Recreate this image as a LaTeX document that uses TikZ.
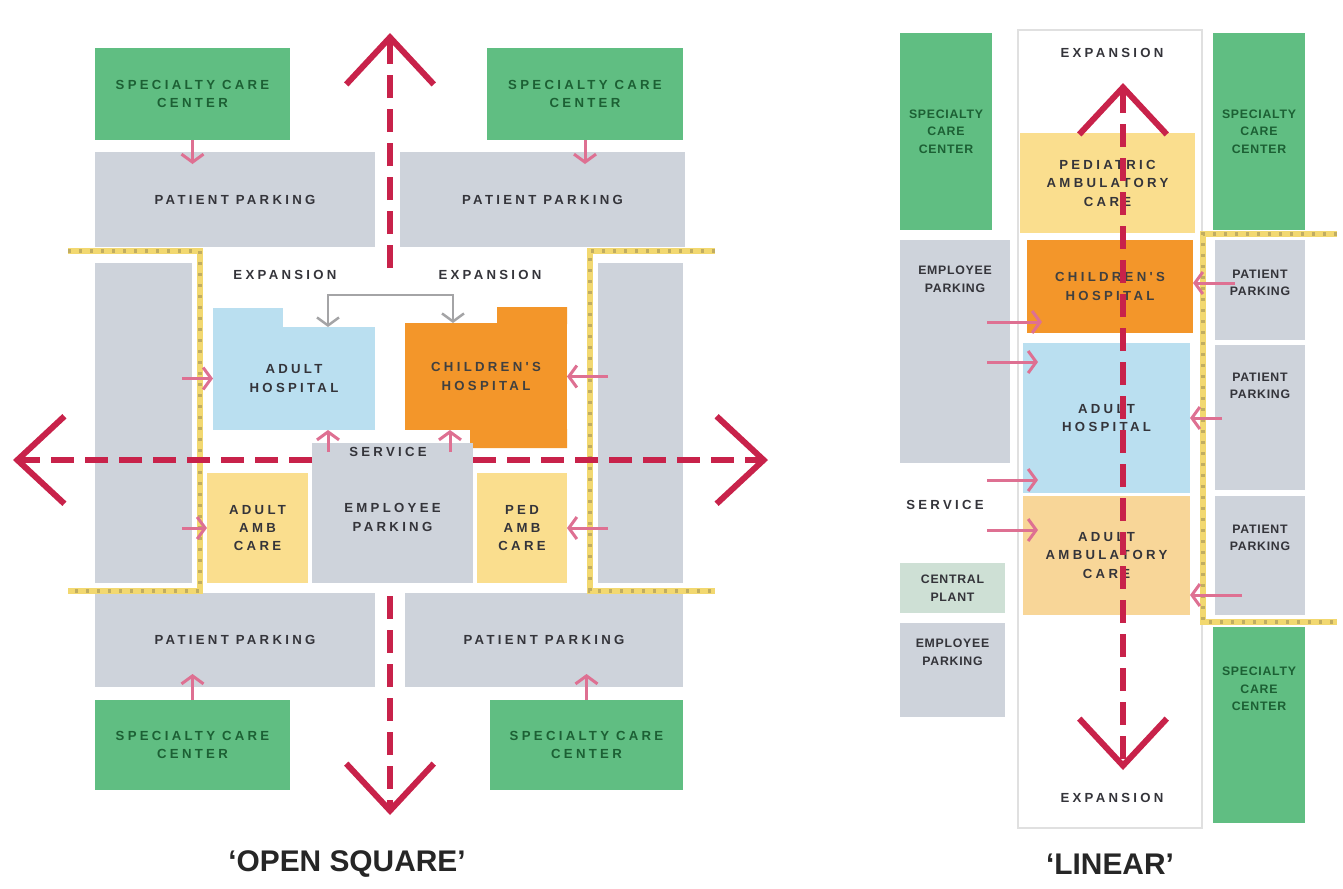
\documentclass[tikz,border=0pt]{standalone}
\usepackage{fontspec}
\setmainfont{Liberation Sans}
\newfontfamily\lblfont[LetterSpace=25]{Liberation Sans}
\usetikzlibrary{arrows.meta}

\definecolor{careGreen}{RGB}{96,190,130}
\definecolor{careText}{RGB}{28,96,52}
\definecolor{parkGray}{RGB}{206,211,219}
\definecolor{adultBlue}{RGB}{186,223,240}
\definecolor{childOrange}{RGB}{243,150,42}
\definecolor{ambYellow}{RGB}{250,222,142}
\definecolor{ambPeach}{RGB}{248,214,152}
\definecolor{plantGreen}{RGB}{206,224,213}
\definecolor{axisRed}{RGB}{200,34,74}
\definecolor{entryPink}{RGB}{222,112,146}
\definecolor{siteYellow}{RGB}{242,216,112}
\definecolor{siteOlive}{RGB}{178,152,58}
\definecolor{labelInk}{RGB}{52,52,58}

\begin{document}
\begin{tikzpicture}[
        x = 0.2mm, y = -0.2mm,
        >= {Straight Barb[length = 1.6mm, width = 4.4mm]},
        bigv/.tip = {Straight Barb[length = 9.4mm, width = 17.5mm]},
        wh/.style 2 args = {minimum width = #1*0.2mm, minimum height = #2*0.2mm},
        block/.style = {rectangle, inner sep = 0pt, outer sep = 0pt, align = center,
            font = \lblfont\bfseries\fontsize{7.5}{10.5}\selectfont, text = labelInk},
        narrow/.style = {font = \lblfont\bfseries\fontsize{7}{10}\selectfont\addfontfeature{LetterSpace=6}},
        care/.style = {block, fill = careGreen, text = careText},
        park/.style = {block, fill = parkGray},
        adult/.style = {block, fill = adultBlue},
        child/.style = {block, fill = childOrange, text = black!75},
        amb/.style = {block, fill = ambYellow},
        tag/.style = {block, fill = none},
        title/.style = {font = \bfseries\fontsize{17}{20}\selectfont, text = black!85},
        axis/.style = {draw = axisRed, line width = 1.2mm, dash pattern = on 4.6mm off 2.2mm},
        entry/.style = {->, draw = entryPink, line width = 0.6mm},
        site/.style = {draw = siteYellow, line width = 1.3mm,
            postaction = {draw = siteOlive!80, line width = 0.8mm, dash pattern = on 0.6mm off 1.6mm}}
    ]
    \useasboundingbox (0,0) rectangle (1343,888);

    % ---- open square ----
    \node[care, wh = {195}{92}] (spcNW) at (192.5,94) {SPECIALTY CARE\\CENTER};
    \node[care, wh = {196}{92}] (spcNE) at (585,94) {SPECIALTY CARE\\CENTER};
    \node[park, wh = {280}{95}] (parkNW) at (235,199.5) {PATIENT PARKING};
    \node[park, wh = {285}{95}] (parkNE) at (542.5,199.5) {PATIENT PARKING};
    \node[park, wh = {97}{320}] (colW) at (143.5,423) {};
    \node[park, wh = {85}{320}] (colE) at (640.5,423) {};

    \fill[adultBlue] (213,308) rectangle (283,328);
    \node[adult, wh = {162}{103}] (aHosp) at (294,378.5) {ADULT\\HOSPITAL};
    \fill[childOrange] (497,307) rectangle (567,324) (470,429) rectangle (567,448);
    \node[child, wh = {162}{107}] (cHosp) at (486,376.5) {CHILDREN'S\\HOSPITAL};
    \node[tag] (expW) at (285,275) {EXPANSION};
    \node[tag] (expE) at (490,275) {EXPANSION};

    \node[amb, wh = {101}{110}] (adAmb) at (257.5,528) {ADULT\\AMB\\CARE};
    \node[park, wh = {161}{140}] (empP) at (392.5,513) {\\EMPLOYEE\\PARKING};
    \node[amb, wh = {90}{110}] (pdAmb) at (522,528) {PED\\AMB\\CARE};
    \node[tag] (svc) at (388,452) {SERVICE};

    \node[park, wh = {280}{94}] (parkSW) at (235,640) {PATIENT PARKING};
    \node[park, wh = {278}{94}] (parkSE) at (544,640) {PATIENT PARKING};
    \node[care, wh = {195}{90}] (spcSW) at (192.5,745) {SPECIALTY CARE\\CENTER};
    \node[care, wh = {193}{90}] (spcSE) at (586.5,745) {SPECIALTY CARE\\CENTER};

    \draw[site] (68,251) -- (200,251) -- (200,591) -- (68,591);
    \draw[site] (715,251) -- (590,251) -- (590,591) -- (715,591);

    \coordinate (axN) at (390,33);
    \coordinate (axS) at (390,815);
    \coordinate (axW) at (13,460);
    \coordinate (axE) at (768,460);
    \coordinate (nsTop) at (390,268);
    \coordinate (nsBot) at (390,596);
    \coordinate (fd) at (390,295);
    \draw[axis, -{bigv}] (nsTop) -- (axN);
    \draw[axis, -{bigv}] (nsBot) -- (axS);
    \draw[axis, -{bigv}] (empP.west |- axW) -- (axW);
    \draw[axis, -{bigv}] (empP.east |- axE) -- (axE);

    \draw[entry] (spcNW.south) -- ([yshift = -2.4mm]spcNW.south |- parkNW.north);
    \draw[entry] (spcNE.south) -- ([yshift = -2.4mm]spcNE.south |- parkNE.north);
    \draw[entry] (spcSW.north) -- ([yshift = 2.6mm]spcSW.north |- parkSW.south);
    \draw[entry] (spcSE.north) -- ([yshift = 2.6mm]spcSE.north |- parkSE.south);
    \draw[entry] ([xshift = -2mm]colW.east |- aHosp) -- (aHosp.west);
    \draw[entry] ([xshift = -2mm]colW.east |- adAmb) -- (adAmb.west);
    \draw[entry] ([xshift = 2mm]colE.west |- cHosp) -- (cHosp.east);
    \draw[entry] ([xshift = 2mm]colE.west |- pdAmb) -- (pdAmb.east);
    \draw[entry, draw = labelInk!45, line width = 0.5mm] (fd) -| ([xshift = 6.8mm]aHosp.north);
    \draw[entry, draw = labelInk!45, line width = 0.5mm] (fd) -| ([xshift = -6.6mm]cHosp.north);
    \draw[entry] ([xshift = 6.8mm]aHosp.south |- svc) -- ([xshift = 6.8mm]aHosp.south);
    \draw[entry] ([xshift = -7.2mm]cHosp.south |- svc) -- ([xshift = -7.2mm]cHosp.south);

    \node[title] (sqTitle) at (347,864) {`OPEN SQUARE'};

    % ---- linear ----
    \draw[draw = black!12, line width = 0.4mm] (1018,30) rectangle (1202,828);
    \node[care, narrow, wh = {92}{197}] (spcL) at (946,131.5) {SPECIALTY\\CARE\\CENTER};
    \node[care, narrow, wh = {92}{197}] (spcR1) at (1259,131.5) {SPECIALTY\\CARE\\CENTER};
    \node[care, wh = {92}{196}] (spcR2) at (1259,725) {};
    \node[tag, narrow, text = careText] at (1259,689) {SPECIALTY\\CARE\\CENTER};
    \node[tag] (expN) at (1112,53) {EXPANSION};
    \node[tag] (expS) at (1112,798) {EXPANSION};

    \node[amb, wh = {175}{100}] (pedAmb) at (1107.5,183) {PEDIATRIC\\AMBULATORY\\CARE};
    \node[child, wh = {166}{93}] (chL) at (1110,286.5) {CHILDREN'S\\HOSPITAL};
    \node[adult, wh = {167}{150}] (adL) at (1106.5,418) {ADULT\\HOSPITAL};
    \node[block, fill = ambPeach, wh = {167}{119}] (ambL) at (1106.5,555.5) {ADULT\\AMBULATORY\\CARE};

    \node[park, wh = {110}{223}] (empL1) at (955,351.5) {};
    \node[tag, narrow] at (955,279) {EMPLOYEE\\PARKING};
    \node[tag] (svcL) at (945,505) {SERVICE};
    \node[block, narrow, fill = plantGreen, wh = {105}{50}] (plant) at (952.5,588) {CENTRAL\\PLANT};
    \node[park, wh = {105}{94}] (empL2) at (952.5,670) {};
    \node[tag, narrow] at (952.5,652) {EMPLOYEE\\PARKING};

    \node[park, wh = {90}{100}] (parkR1) at (1260,290) {};
    \node[tag, narrow] at (1260,283) {PATIENT\\PARKING};
    \node[park, wh = {90}{145}] (parkR2) at (1260,417.5) {};
    \node[tag, narrow] at (1260,386) {PATIENT\\PARKING};
    \node[park, wh = {90}{119}] (parkR3) at (1260,555.5) {};
    \node[tag, narrow] at (1260,538) {PATIENT\\PARKING};

    \draw[site] (1337,234) -- (1203,234) -- (1203,622) -- (1337,622);

    \coordinate (linN) at (1123,83);
    \coordinate (linS) at (1123,770);
    \draw[axis, {bigv}-{bigv}] (linN) -- (linS);

    \coordinate (lt1) at (987,322);
    \coordinate (lt2) at (987,362);
    \coordinate (lt3) at (987,480);
    \coordinate (lt4) at (987,530);
    \coordinate (rt1) at (1235,283);
    \coordinate (rt2) at (1222,418);
    \coordinate (rt3) at (1242,595);
    \draw[entry, shorten >= -3mm] (lt1) -- (lt1 -| chL.west);
    \draw[entry, shorten >= -3mm] (lt2) -- (lt2 -| adL.west);
    \draw[entry, shorten >= -3mm] (lt3) -- (lt3 -| adL.west);
    \draw[entry, shorten >= -3mm] (lt4) -- (lt4 -| ambL.west);
    \draw[entry] (rt1) -- (rt1 -| chL.east);
    \draw[entry] (rt2) -- (rt2 -| adL.east);
    \draw[entry] (rt3) -- (rt3 -| ambL.east);

    \node[title] (linTitle) at (1110,864) {`LINEAR'};
\end{tikzpicture}
\end{document}
